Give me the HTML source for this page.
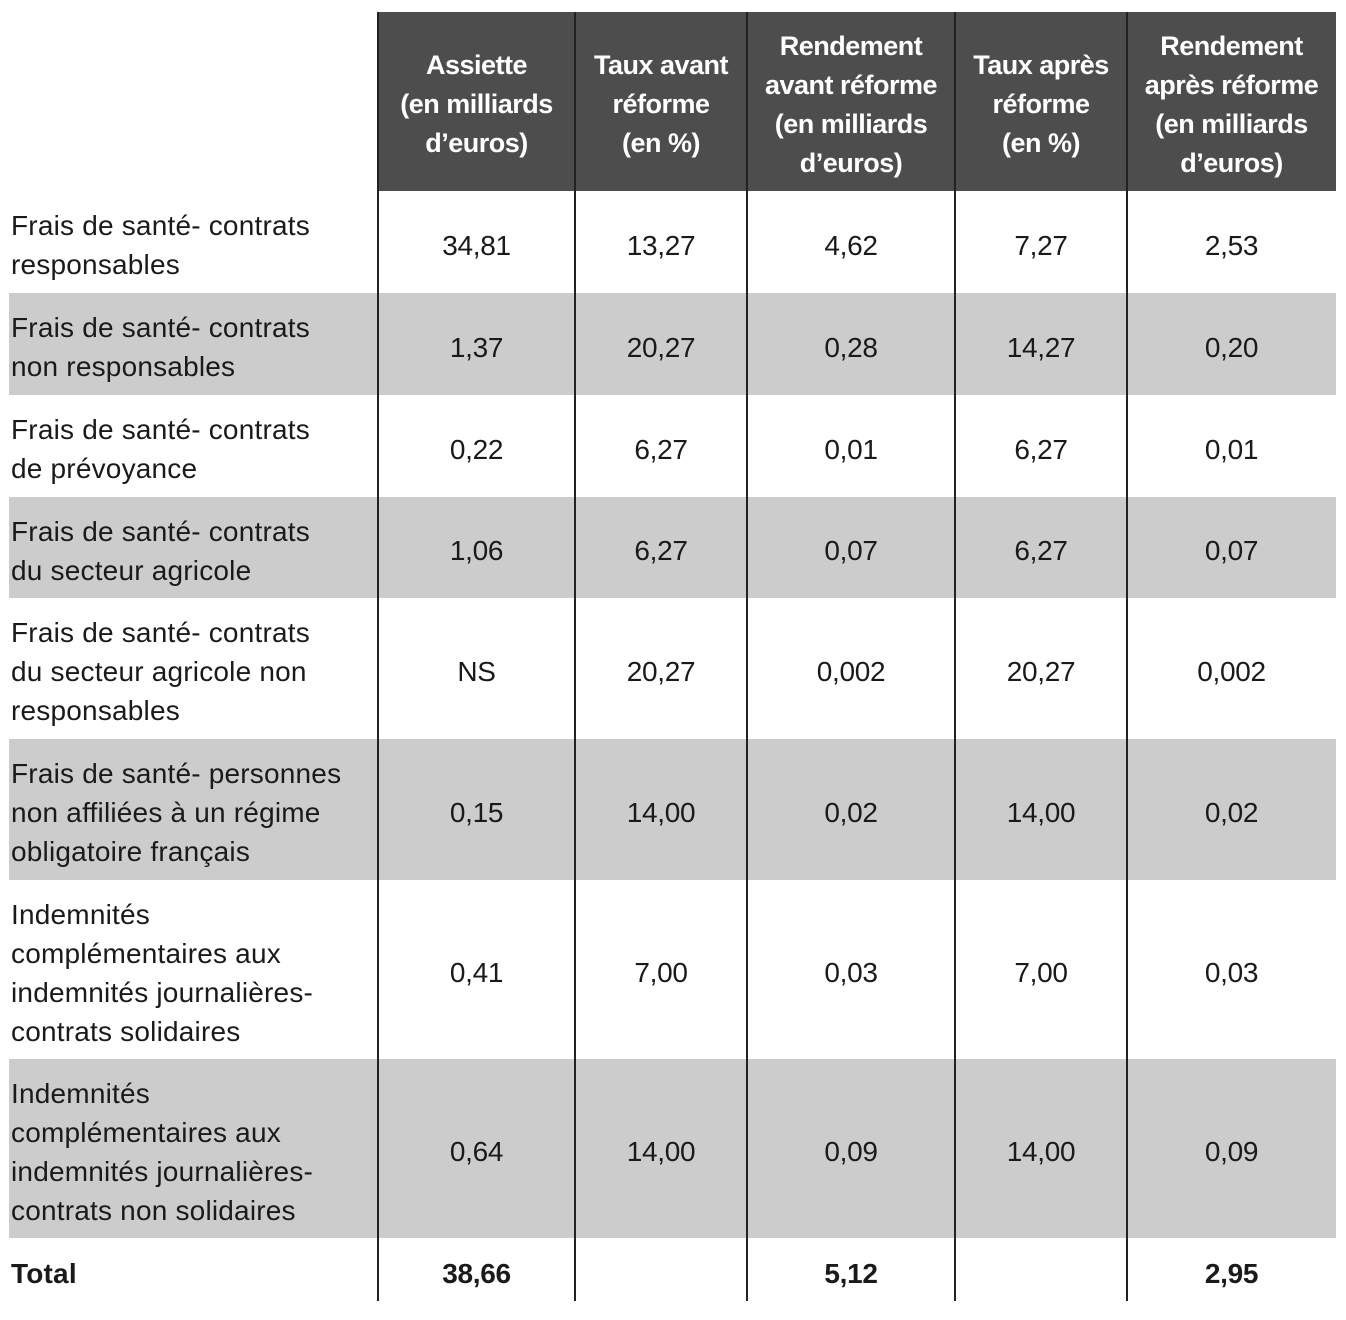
<!DOCTYPE html>
<html><head><meta charset="utf-8"><style>
html,body{margin:0;padding:0;background:#fff;}
body{width:1346px;height:1320px;position:relative;overflow:hidden;font-family:"Liberation Sans",sans-serif;color:#1a1a1a;}
.bg{position:absolute;}
.vl{position:absolute;width:2px;background:#222;top:12px;height:1289px;}
.c{position:absolute;display:flex;align-items:center;justify-content:center;text-align:center;font-size:28px;line-height:39px;letter-spacing:-0.3px;padding-top:6px;box-sizing:border-box;}
.l{position:absolute;display:flex;align-items:center;left:11px;width:365px;font-size:28px;line-height:39px;letter-spacing:0.2px;padding-top:6px;box-sizing:border-box;}
.h{color:#fff;font-weight:bold;font-size:27px;line-height:39px;letter-spacing:-0.5px;}
b{font-weight:bold;}
</style></head><body>
<div class="bg" style="left:378px;top:12px;width:958px;height:179px;background:#4d4d4d"></div>
<div class="bg" style="left:9px;top:293px;width:1327px;height:102px;background:#cccccc"></div>
<div class="bg" style="left:9px;top:497px;width:1327px;height:101px;background:#cccccc"></div>
<div class="bg" style="left:9px;top:739px;width:1327px;height:141px;background:#cccccc"></div>
<div class="bg" style="left:9px;top:1059px;width:1327px;height:179px;background:#cccccc"></div>
<div class="vl" style="left:377px"></div>
<div class="vl" style="left:574px"></div>
<div class="vl" style="left:746px"></div>
<div class="vl" style="left:954px"></div>
<div class="vl" style="left:1126px"></div>

<div class="c h" style="left:378px;top:12px;width:197px;height:179px">Assiette<br>(en milliards<br>d’euros)</div>
<div class="c h" style="left:575px;top:12px;width:172px;height:179px">Taux avant<br>réforme<br>(en %)</div>
<div class="c h" style="left:747px;top:12px;width:208px;height:179px">Rendement<br>avant réforme<br>(en milliards<br>d’euros)</div>
<div class="c h" style="left:955px;top:12px;width:172px;height:179px">Taux après<br>réforme<br>(en %)</div>
<div class="c h" style="left:1127px;top:12px;width:209px;height:179px">Rendement<br>après réforme<br>(en milliards<br>d’euros)</div>

<div id="rows"></div>
<script>
var rows=[
[191,102,"Frais de santé- contrats<br>responsables",["34,81","13,27","4,62","7,27","2,53"]],
[293,102,"Frais de santé- contrats<br>non responsables",["1,37","20,27","0,28","14,27","0,20"]],
[395,102,"Frais de santé- contrats<br>de prévoyance",["0,22","6,27","0,01","6,27","0,01"]],
[497,101,"Frais de santé- contrats<br>du secteur agricole",["1,06","6,27","0,07","6,27","0,07"]],
[598,141,"Frais de santé- contrats<br>du secteur agricole non<br>responsables",["NS","20,27","0,002","20,27","0,002"]],
[739,141,"Frais de santé- personnes<br>non affiliées à un régime<br>obligatoire français",["0,15","14,00","0,02","14,00","0,02"]],
[880,179,"Indemnités<br>complémentaires aux<br>indemnités journalières-<br>contrats solidaires",["0,41","7,00","0,03","7,00","0,03"]],
[1059,179,"Indemnités<br>complémentaires aux<br>indemnités journalières-<br>contrats non solidaires",["0,64","14,00","0,09","14,00","0,09"]],
[1238,64,"<b>Total</b>",["<b>38,66</b>","","<b>5,12</b>","","<b>2,95</b>"]]
];
var cols=[[378,197],[575,172],[747,208],[955,172],[1127,209]];
var h="";
rows.forEach(function(r){
h+='<div class="l" style="top:'+r[0]+'px;height:'+r[1]+'px">'+r[2]+'</div>';
r[3].forEach(function(v,i){h+='<div class="c" style="left:'+cols[i][0]+'px;width:'+cols[i][1]+'px;top:'+r[0]+'px;height:'+r[1]+'px">'+v+'</div>';});
});
document.getElementById("rows").innerHTML=h;
</script>
</body></html>
